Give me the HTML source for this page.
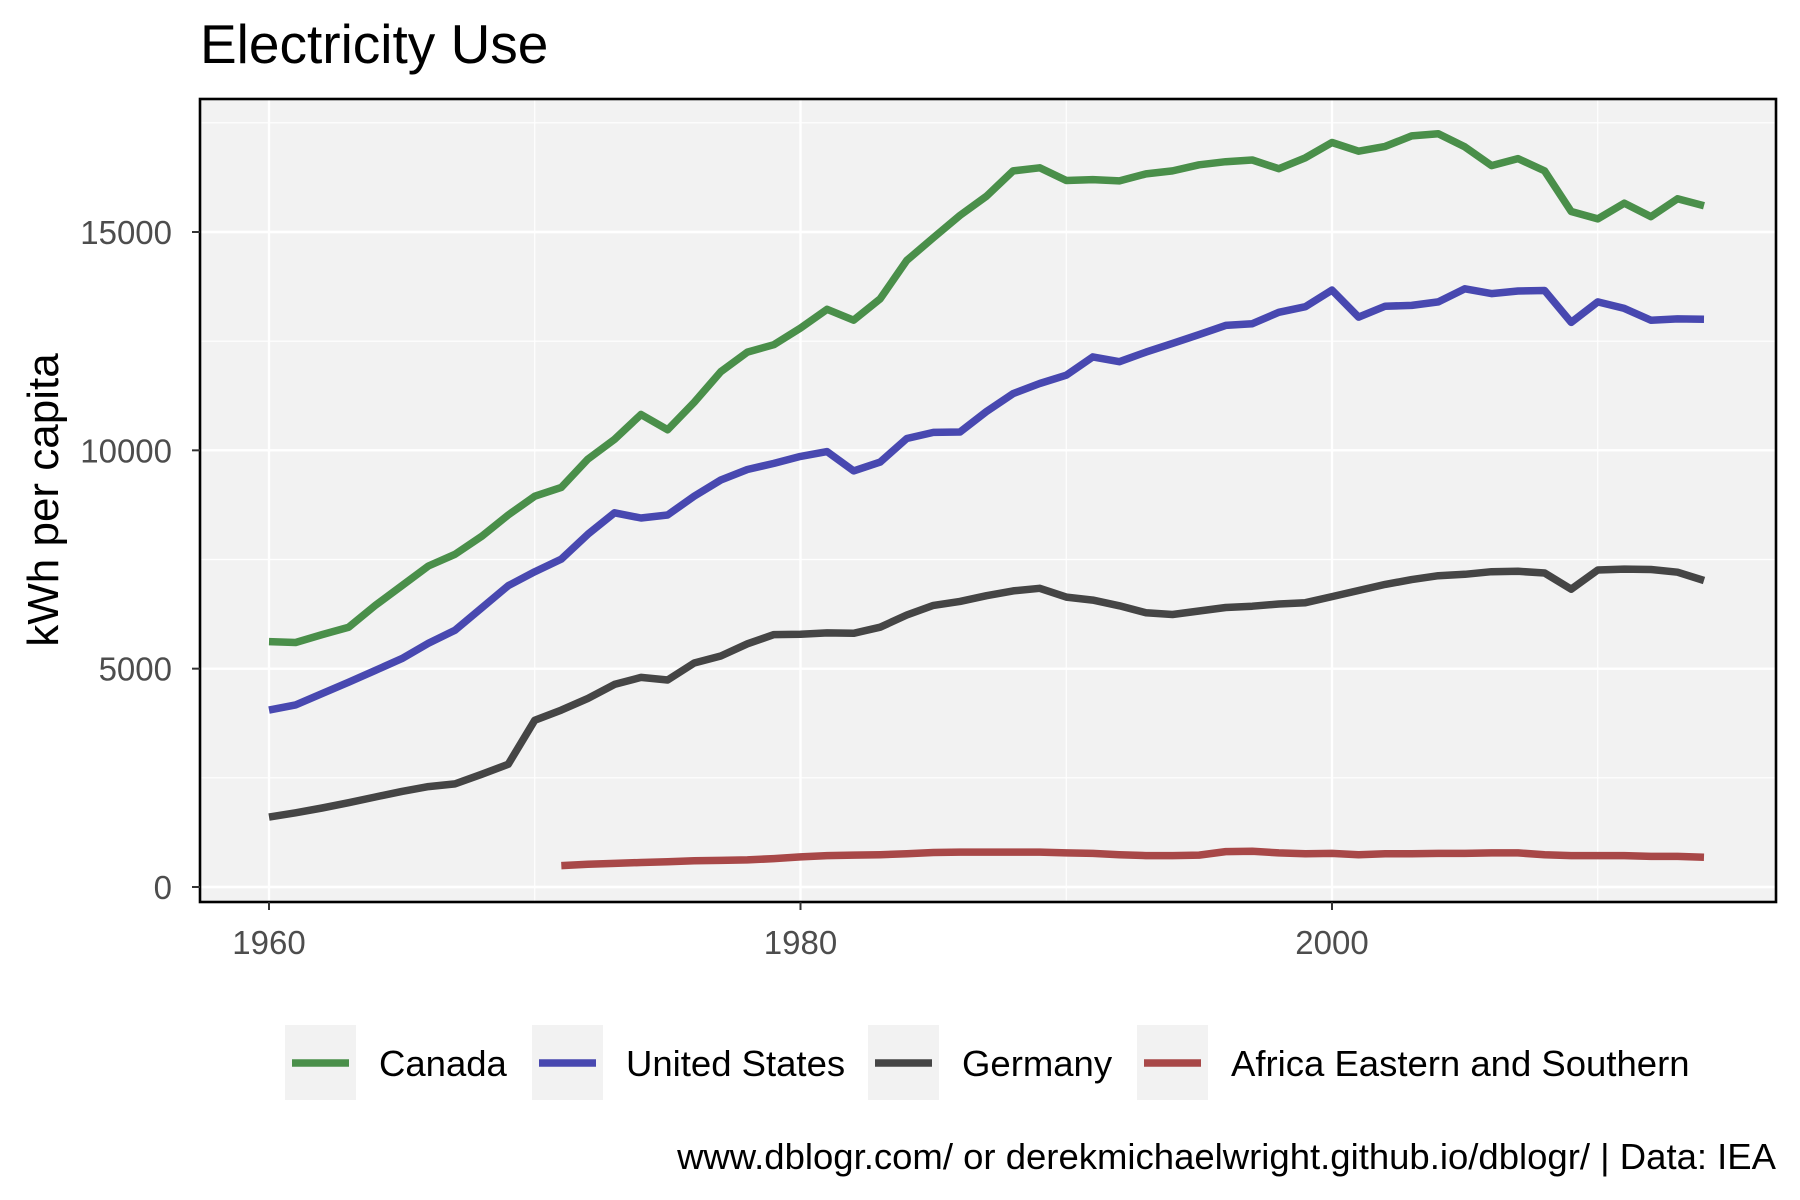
<!DOCTYPE html>
<html><head><meta charset="utf-8"><style>
html,body{margin:0;padding:0;background:#fff;}
svg{display:block;font-family:"Liberation Sans",Arial,sans-serif;}
</style></head><body>
<svg id="chart" width="1800" height="1200" viewBox="0 0 1800 1200" xmlns="http://www.w3.org/2000/svg">
<rect width="1800" height="1200" fill="#fff"/>
<text x="200" y="63" font-size="55" fill="#000">Electricity Use</text>
<rect x="200" y="99" width="1576" height="803" fill="#f2f2f2"/>
<g id="grid"></g>
<g id="series"></g>
<rect x="200" y="99" width="1576" height="803" fill="none" stroke="#000" stroke-width="2.6"/>
<g id="axes"></g>
<text transform="translate(58,500) rotate(-90)" text-anchor="middle" font-size="44" fill="#000">kWh per capita</text>
<g id="legend"></g>
<text x="1776" y="1169" text-anchor="end" font-size="36.5" fill="#000">www.dblogr.com/ or derekmichaelwright.github.io/dblogr/ | Data: IEA</text>
</svg>
<script>
const years = [];
for (let y = 1960; y <= 2014; y++) years.push(y);
const canada = [5620,5600,5780,5950,6450,6900,7350,7620,8030,8520,8950,9150,9800,10250,10820,10470,11100,11800,12250,12420,12800,13230,12980,13470,14350,14870,15380,15820,16400,16470,16180,16200,16170,16330,16400,16540,16610,16650,16450,16700,17050,16850,16960,17200,17250,16950,16520,16680,16400,15470,15300,15660,15350,15760,15600];
const unitedStates = [4050,4170,4430,4690,4960,5230,5580,5880,6390,6900,7220,7510,8080,8570,8450,8520,8950,9320,9560,9700,9860,9970,9530,9730,10270,10410,10420,10890,11300,11530,11720,12140,12030,12250,12450,12650,12860,12900,13160,13290,13670,13050,13300,13320,13400,13700,13590,13650,13660,12930,13400,13250,12980,13010,13000];
const germany = [1600,1700,1810,1930,2060,2190,2300,2360,2580,2810,3820,4050,4320,4640,4800,4740,5130,5290,5570,5780,5790,5820,5810,5950,6230,6450,6540,6670,6780,6840,6640,6570,6440,6280,6240,6320,6400,6430,6480,6510,6650,6790,6930,7040,7130,7160,7220,7230,7190,6820,7260,7280,7270,7210,7020];
const africaStartYear = 1971;
const africa = [490,520,540,560,580,600,610,620,650,690,720,730,740,760,790,800,800,800,800,780,770,740,720,720,730,810,820,780,760,770,740,760,760,770,770,780,780,740,720,720,720,700,700,680];
const yTicks = [0,5000,10000,15000];
const yTickLabels = ["0","5000","10000","15000"];
const yMinor = [2500,7500,12500,17500];
const xTicks = [1960,1980,2000];
const xTickLabels = ["1960","1980","2000"];
const xMinor = [1970,1990,2010];
const seriesNames = ["Canada","United States","Germany","Africa Eastern and Southern"];

const NS = "http://www.w3.org/2000/svg";
const X = yr => 269 + (yr - 1960) * (1332 - 269) / 40;
const Y = v => 887 - v * (887 - 232) / 15000;
function mk(tag, attrs, parent){ const e=document.createElementNS(NS,tag); for(const k in attrs) e.setAttribute(k,attrs[k]); parent.appendChild(e); return e; }
const grid=document.getElementById('grid'), axes=document.getElementById('axes'), ser=document.getElementById('series'), leg=document.getElementById('legend');
yMinor.forEach(v=>{ if(Y(v)<99) return; const l=mk('line',{x1:200,x2:1776,y1:Y(v),y2:Y(v),stroke:'#fff','stroke-width':1.2},grid);
   });
xMinor.forEach(v=>{ const l=mk('line',{x1:X(v),x2:X(v),y1:99,y2:902,stroke:'#fff','stroke-width':1.2},grid);
   });
yTicks.forEach((v,i)=>{ const l=mk('line',{x1:200,x2:1776,y1:Y(v),y2:Y(v),stroke:'#fff','stroke-width':2.4},grid);
  
 const t=mk('line',{x1:192,x2:200,y1:Y(v),y2:Y(v),stroke:'#333','stroke-width':2},axes);
  
 const tx=mk('text',{x:172,y:Y(v)+12,'text-anchor':'end','font-size':33,fill:'#4d4d4d'},axes); tx.textContent=yTickLabels[i];
   });
xTicks.forEach((v,i)=>{ const l=mk('line',{x1:X(v),x2:X(v),y1:99,y2:902,stroke:'#fff','stroke-width':2.4},grid);
  
 const t=mk('line',{x1:X(v),x2:X(v),y1:902,y2:910,stroke:'#333','stroke-width':2},axes);
  
 const tx=mk('text',{x:X(v),y:954,'text-anchor':'middle','font-size':33,fill:'#4d4d4d'},axes); tx.textContent=xTickLabels[i];
   });
const colors=['#4a8f4a','#4848b0','#454545','#a84848'];
const data=[[canada,1960],[unitedStates,1960],[germany,1960],[africa,africaStartYear]];
data.forEach(([vals,start],i)=>{
 const d=vals.map((v,j)=>(j?'L':'M')+X(start+j).toFixed(1)+','+Y(v).toFixed(1)).join('');
 const p=mk('path',{d:d,fill:'none',stroke:colors[i],'stroke-width':7.5,'stroke-linejoin':'round'},ser);
  
});
const legX=[285,532,868,1137];
seriesNames.forEach((n,i)=>{
 const g=mk('g',{},leg);  
 const b=mk('rect',{x:legX[i],y:1025,width:71,height:75,fill:'#f2f2f2'},g);
  
 const l=mk('line',{x1:legX[i]+7,x2:legX[i]+64,y1:1063,y2:1063,stroke:colors[i],'stroke-width':7.5},g);
  
 const t=mk('text',{x:legX[i]+94,y:1076,'font-size':36.5,fill:'#000'},g); t.textContent=n;
  
});
</script>
</body></html>
